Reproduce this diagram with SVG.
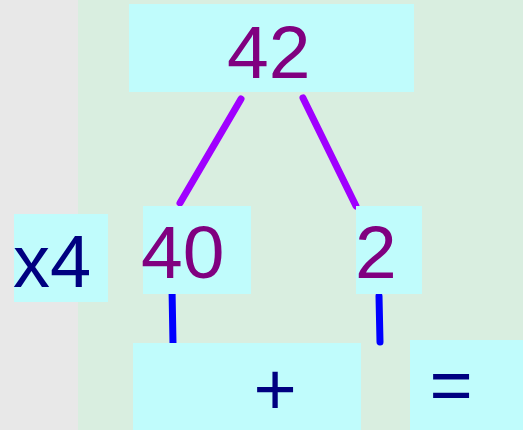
<svg xmlns="http://www.w3.org/2000/svg" width="523" height="430" viewBox="0 0 523 430">
<style>
.box{fill:#c0fcfc}
.num{font-family:"Liberation Sans",Arial,sans-serif;font-size:75px;fill:#800080}
.op{font-family:"Liberation Sans",Arial,sans-serif;font-size:74px;fill:#000080}
.tree{stroke:#a000ff;stroke-width:7;stroke-linecap:round;fill:none}
.down{stroke:#0000ff;stroke-width:7;stroke-linecap:round;fill:none}
</style>
<rect x="0" y="0" width="523" height="430" fill="#e8e8e8"/>
<rect x="78" y="0" width="445" height="430" fill="#d9eee0"/>
<g id="connectors">
<line class="tree" x1="241" y1="99" x2="180" y2="203"/>
<line class="tree" x1="303" y1="98" x2="356" y2="206"/>
<line class="down" x1="172" y1="288" x2="173" y2="344"/>
<line class="down" x1="379" y1="296" x2="380" y2="342"/>
</g>
<g id="n42"><rect class="box" x="129" y="4" width="285" height="88"/><text class="num" x="227" y="78">42</text></g>
<g id="nx4"><rect class="box" x="14" y="214" width="94" height="88"/><text class="op" x="13" y="287">x4</text></g>
<g id="n40"><rect class="box" x="143" y="206" width="108" height="88"/><text class="num" x="141" y="278">40</text></g>
<g id="n2"><rect class="box" x="356" y="206" width="66" height="88"/><text class="num" x="355" y="278">2</text></g>
<g id="nplus"><rect class="box" x="133" y="343" width="228" height="87"/><text class="op" x="275" y="415" text-anchor="middle">+</text></g>
<g id="neq"><rect class="box" x="410" y="340" width="113" height="90"/><text class="op" x="451" y="410" text-anchor="middle">=</text></g>
</svg>
